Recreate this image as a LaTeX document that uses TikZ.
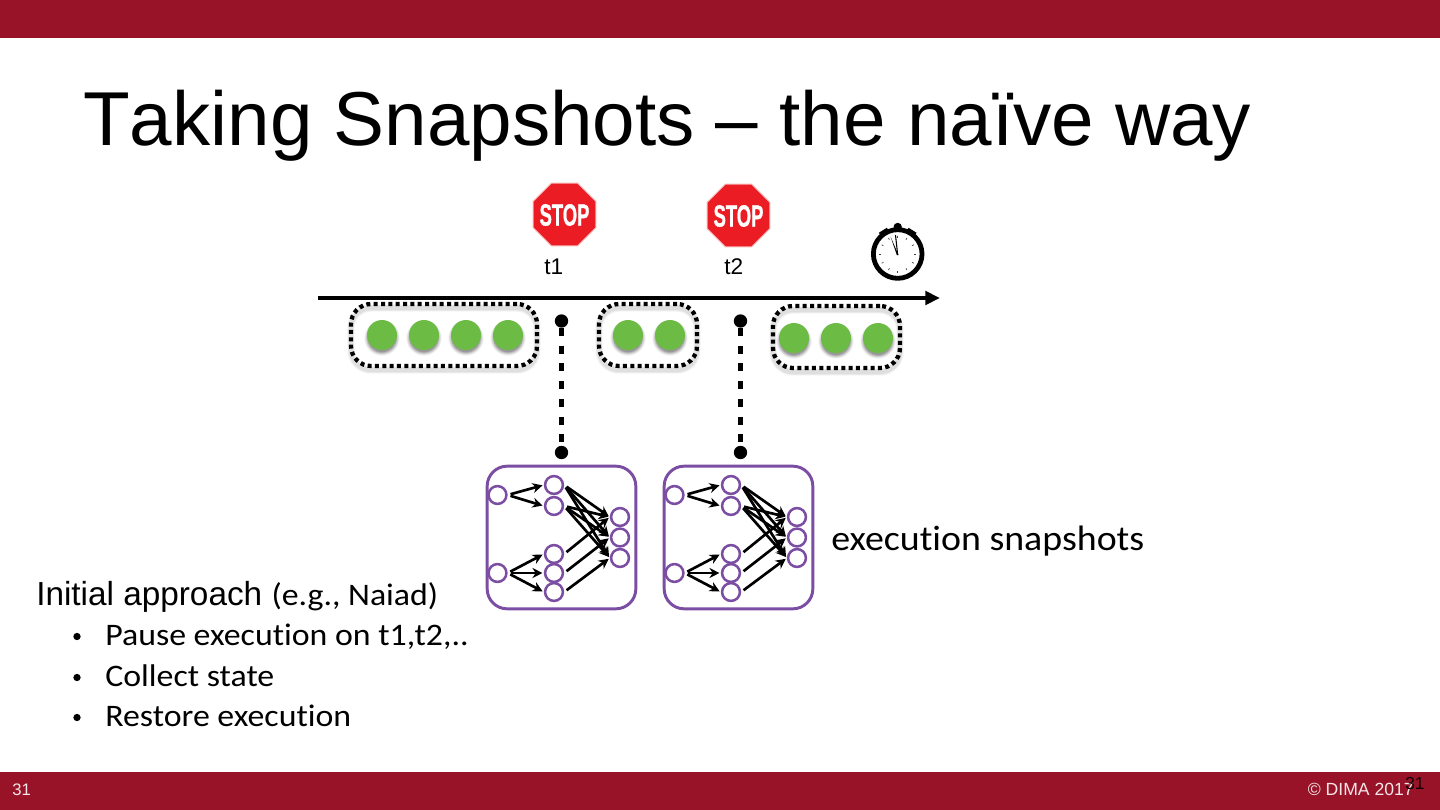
\documentclass[tikz,border=0pt]{standalone}
\usepackage{graphicx}
\usepackage{fontspec}
\setmainfont{Liberation Sans}
\newfontfamily\titlefont[Kerning=Off]{Liberation Sans}
\newfontfamily\calfont[Ligatures=NoCommon]{Carlito}
\newfontfamily\stopfont[FakeBold=1.2]{Liberation Sans Bold}
\usetikzlibrary{arrows.meta,shapes.geometric,calc}
\definecolor{dimared}{HTML}{981327}
\definecolor{netpurple}{HTML}{7B4EA3}
\definecolor{dotgreen}{HTML}{6CBB45}
\definecolor{stopred}{HTML}{EC1C24}
\tikzset{
  x=0.75pt,y=-0.75pt,
  band/.style={fill=dimared,draw=none},
  txt/.style={inner sep=0,anchor=base west,text=black},
  mini/.style={circle,draw=netpurple,line width=1.9pt,fill=white,minimum size=13.4pt,inner sep=0},
  netbox/.style={draw=netpurple,line width=2.2pt,rounded corners=15pt,fill=white,rectangle,inner sep=0},
  netarrow/.style={-{Stealth[length=7.5pt,width=7.5pt]},line width=2pt,black,shorten <=2.2pt,shorten >=1pt},
  greendot/.style={circle,fill=dotgreen,minimum size=22.5pt,inner sep=0},
  dottedbox/.style={draw=black,line width=3.2pt,dash pattern=on 3pt off 2.5pt,rounded corners=15pt,rectangle,inner sep=0},
  stopsign/.style={regular polygon,regular polygon sides=8,fill=stopred,draw=white!70!stopred,line width=.7pt,inner sep=0,minimum size=51pt},
  stoptext/.style={text=white,font=\stopfont\fontsize{23}{23}\selectfont,xscale=.6,inner sep=0},
  vdot/.style={circle,fill=black,minimum size=10pt,inner sep=0},
  vdash/.style={draw=black,line width=3.4pt,dash pattern=on 6pt off 7.3pt},
}
\newcommand{\softshadow}[4]{% x y radius dy
  \foreach \g/\o in {1.18/.05,1.12/.07,1.06/.09,1.0/.12,.94/.14}{
    \fill[black,opacity=\o] (#1,#2+#4) circle[radius=#3*\g];}
}
\newcommand{\gdot}[3]{\softshadow{#2}{#3}{15}{3}\node[greendot] (#1) at (#2,#3) {};}
\newcommand{\dbox}[5]{% name x1 y1 x2 y2
  \foreach \o/\w in {.05/5.6,.06/4.4,.07/3.2}{
    \draw[black!70,opacity=\o,line width=\w pt,rounded corners=15pt] (#2,#3+4) rectangle (#4,#5+4);}
  \path let \p1=(#2,#3),\p2=(#4,#5) in node[dottedbox,minimum width=\x2-\x1,minimum height=\y1-\y2] (#1) at ($.5*(\p1)+.5*(\p2)$) {};
}
\newcommand{\snapnet}[2]{% prefix xoffset
  \begin{scope}[xshift=#2*0.75pt]
    \node[netbox,minimum width=111.5pt,minimum height=107pt] (#1box) at (561.5,537.5) {};
    \node[mini] (#1a) at (497.5,495) {};
    \node[mini] (#1b) at (497.5,573) {};
    \node[mini] (#1c) at (554,485) {};
    \node[mini] (#1d) at (554,506) {};
    \node[mini] (#1e) at (554,554) {};
    \node[mini] (#1f) at (554,573) {};
    \node[mini] (#1g) at (554,592) {};
    \node[mini] (#1r) at (620,517) {};
    \node[mini] (#1s) at (620,537.5) {};
    \node[mini] (#1t) at (620,558) {};
    \foreach \u/\v in {a/c,a/d,b/e,b/f,b/g,c/r,c/s,c/t,d/r,d/s,d/t,e/r,f/s,g/t}{
      \draw[netarrow] (#1\u.east) -- (#1\v.west);}
  \end{scope}
}
\begin{document}
\begin{tikzpicture}
\useasboundingbox (0,0) rectangle (1440,810);
\fill[white] (0,0) rectangle (1440,810);
\fill[band] (0,0) rectangle (1440,38);
\fill[band] (0,772) rectangle (1440,810);

\node[txt,font=\titlefont\fontsize{57.3}{57.3}\selectfont] (title) at (83,145) {Taking Snapshots – the naïve way};

% stop signs
\node[stopsign] (stop1) at (564.5,214.5) {};
\node[stoptext] (stoptxt1) at (564.5,215) {STOP};
\node[stopsign] (stop2) at (738.5,215.5) {};
\node[stoptext] (stoptxt2) at (738.5,216) {STOP};
\node[txt,font=\fontsize{17}{17}\selectfont] (t1) at (544,274) {t1};
\node[txt,font=\fontsize{17}{17}\selectfont] (t2) at (724,274) {t2};

% stopwatch
\fill[black] (897.7,227) circle[radius=4.2];
\fill[black,rotate around={-32:(897.7,254)}] (893,226) rectangle (902.4,232);
\fill[black,rotate around={32:(897.7,254)}] (893,226) rectangle (902.4,232);
\node[circle,draw=black,fill=white,line width=3.6pt,minimum size=36.5pt,inner sep=0] (watch) at (897.7,254) {};
\foreach \a in {0,30,...,330}{
  \draw[black!75,line width=.5pt] ($(watch.center)+(\a:18.5)$) -- ($(watch.center)+(\a:16.5)$);}
\fill[black] (896.8,255) -- (890.5,236.5) -- (898.5,255) -- cycle;
\draw[black,line width=.8pt] (897.7,255) -- (895.5,235);

% timeline
\coordinate (tstart) at (318,298);
\coordinate (tend) at (940,298);
\draw[black,line width=3.6pt,-{Stealth[length=11pt,width=10pt,inset=0pt]}] (tstart) -- (tend);

% batches
\dbox{win1}{351}{304}{537}{366}
\gdot{d1}{382}{335}\gdot{d2}{424}{335}\gdot{d3}{466}{335}\gdot{d4}{508}{335}
\dbox{win2}{599}{304}{697}{366}
\gdot{d5}{628}{335}\gdot{d6}{670}{335}
\dbox{win3}{773}{306}{900}{368}
\gdot{d7}{794}{338}\gdot{d8}{836}{338}\gdot{d9}{878}{338}

% pause lines
\node[vdot] (p1) at (561.5,321) {};
\node[vdot] (q1) at (561.5,452.5) {};
\draw[vdash] (p1) -- (q1);
\node[vdot] (p2) at (740.5,321) {};
\node[vdot] (q2) at (740.5,452.5) {};
\draw[vdash] (p2) -- (q2);

% snapshots
\snapnet{n}{0}
\snapnet{m}{177}

\node[txt,font=\calfont\fontsize{26.5}{26.5}\selectfont,xscale=1.072] (exec) at (831,550) {execution snapshots};

% bullets text
\node[txt] (init) at (36,605) {\fontsize{25}{25}\selectfont Initial approach {\calfont\fontsize{23.5}{23.5}\selectfont\scalebox{1.08}[1]{(e.g., Naiad)}}};
\foreach \n/\y/\s in {a/645/{Pause execution on t1,t2,..},b/686/{Collect state},c/726/{Restore execution}}{
  \node[txt,font=\calfont\fontsize{23.5}{23.5}\selectfont,xscale=1.08] (bt\n) at (105,\y) {\s};
  \node[circle,fill=black,minimum size=5.5pt,inner sep=0] (bd\n) at (77,\y-8.5) {};
}

% footer
\node[txt,text=white!90!dimared,font=\fontsize{12.5}{12.5}\selectfont] (pg) at (12,795) {31};
\node[inner sep=0,anchor=base east,text=white!90!dimared,font=\fontsize{13.2}{13.2}\selectfont] (copy) at (1414,795) {© DIMA 2017};
\node[txt,text=black!90!dimared,font=\fontsize{13}{13}\selectfont] (pg2) at (1405,789) {31};
\end{tikzpicture}
\end{document}
